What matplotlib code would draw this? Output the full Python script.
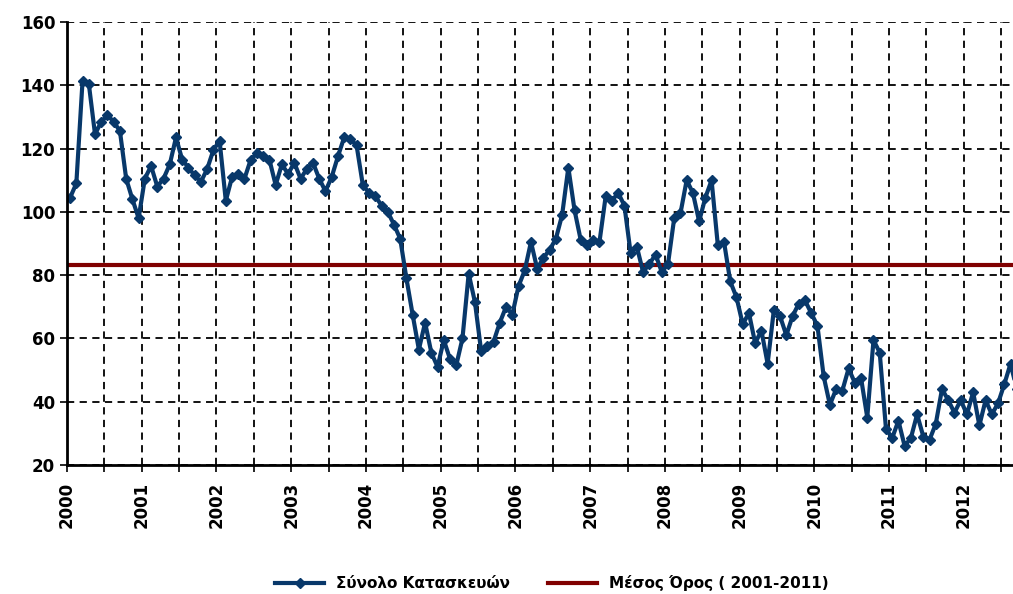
import numpy as np
import matplotlib
matplotlib.use('Agg')
import matplotlib.pyplot as plt
from matplotlib.transforms import ScaledTranslation

# Μηνιαίες τιμές δείκτη, Ιαν 2000 - Σεπ 2012 (εκτίμηση από το διάγραμμα)
y2000 = [104.5, 109, 141.5, 140.5, 124.5, 128.5, 130.5, 128.5, 125.5, 110.5, 104, 98]
y2001 = [110.5, 114.5, 108, 110.5, 115, 123.5, 116.5, 114, 111.5, 109.5, 113.5, 119.5]
y2002 = [122.5, 103.5, 111, 112, 110.5, 116.5, 118.5, 117.5, 116.5, 108.5, 115, 112]
y2003 = [115.5, 110.5, 113.5, 115.5, 110.5, 106.5, 111, 117.5, 123.5, 123, 121, 108.5]
y2004 = [106, 105, 102, 100, 96, 91.5, 79, 67.5, 56.5, 65, 55.5, 51]
y2005 = [59.5, 53.5, 51.5, 60, 80.5, 71.5, 56, 57.5, 59, 65, 70, 67.5]
y2006 = [76.5, 81.5, 90.5, 82, 85.5, 88, 91.5, 99, 114, 100.5, 91, 89.5]
y2007 = [91, 90.5, 105, 103.5, 106, 102, 87, 89, 81, 83.5, 86.5, 81]
y2008 = [83.5, 98, 99.5, 110, 106, 97, 104.5, 110, 89.5, 90.5, 78, 73]
y2009 = [64.5, 68, 58.5, 62.5, 52, 69, 67, 61, 67, 71, 72, 68]
y2010 = [64, 48, 39, 44, 43.5, 50.5, 46, 47.5, 35, 59.5, 55.5, 31.5]
y2011 = [28.5, 34, 26, 28.5, 36, 29, 28, 33, 44, 40.5, 36.5, 40.5]
y2012 = [36, 43, 32.5, 40.5, 36, 39.5, 45.5, 52, 44]

mesos_oros = 83.2
years = list(range(2000, 2013))

series = (y2000 + y2001 + y2002 + y2003 + y2004 + y2005 + y2006 +
          y2007 + y2008 + y2009 + y2010 + y2011 + y2012)
x = np.arange(len(series)) + 0.5

fig = plt.figure(figsize=(10.13, 5.94), dpi=100)
ax = fig.add_axes([67 / 1013, 1 - 465 / 594, 1 - 67 / 1013, (465 - 22) / 594])

ax.plot(x, series, color='#08386a', linewidth=3.0, marker='D', markersize=5.5,
        label='Σύνολο Κατασκευών', zorder=3)
ax.axhline(mesos_oros, color='#800000', linewidth=3, label='Μέσος Όρος ( 2001-2011)', zorder=2)

ax.set_xlim(0, 151.9)
ax.set_ylim(20, 160)
ax.set_yticks(np.arange(20, 161, 20))

# ticks κάθε 6 μήνες, ετικέτα μόνο στην αρχή του έτους
ticks = np.arange(0, 152, 6)
labels = [str(years[t // 12]) if t % 12 == 0 else '' for t in ticks]
ax.set_xticks(ticks)
ax.set_xticklabels(labels, rotation=90, fontweight='bold', fontsize=12)
offset = ScaledTranslation(5 / 100, 0, fig.dpi_scale_trans)
for lab in ax.get_xticklabels():
    lab.set_transform(lab.get_transform() + offset)
for lab in ax.get_yticklabels():
    lab.set_fontweight('bold')
    lab.set_fontsize(12)

ax.tick_params(axis='both', direction='out', length=5, width=1.2, color='black')
ax.tick_params(axis='x', pad=7)

ax.grid(True, color='black', linestyle=(0, (4, 3)), linewidth=1.3)
ax.set_axisbelow(True)

for s in ['top', 'right']:
    ax.spines[s].set_visible(False)
for s in ['left', 'bottom']:
    ax.spines[s].set_linewidth(2)
    ax.spines[s].set_zorder(4)

fig.legend(loc='center', bbox_to_anchor=(0.545, 0.018), ncol=2, frameon=False,
           prop={'weight': 'bold', 'size': 11}, handlelength=3.2, columnspacing=2.5)

plt.savefig('out.png', dpi=100)
plt.close()
